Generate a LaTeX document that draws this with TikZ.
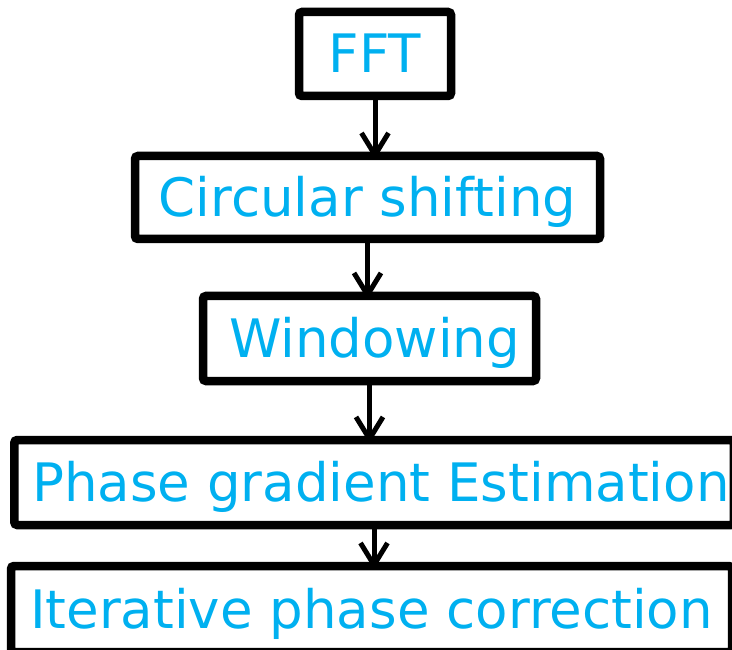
\documentclass[tikz,border=0pt]{standalone}
\usepackage{fontspec}
\setmainfont{DejaVu Sans}
\usetikzlibrary{arrows.meta}
\definecolor{txtblue}{HTML}{00B0F0}
\begin{document}
\begin{tikzpicture}[x=1pt,y=-1pt,
  stepbox/.style={draw=black, line width=8.5pt, rounded corners=3pt, inner sep=0pt,
    text=txtblue, font=\fontsize{53}{60}\selectfont, text height=38pt, text depth=0pt},
  arr/.style={draw=black, line width=5pt, shorten >=-8pt,
    -{Straight Barb[length=22pt,width=27pt]}}]
\useasboundingbox (0,0) rectangle (732,650);
\node[stepbox, minimum width=152pt, minimum height=84pt] (fft) at (375,54) {FFT};
\node[stepbox, minimum width=465pt, minimum height=83pt] (circ) at (367.5,197.5) {Circular shifting};
\node[stepbox, minimum width=333pt, minimum height=85pt] (win) at (369.5,338.5) {\hspace*{10pt}Windowing};
\node[stepbox, minimum width=719.5pt, minimum height=85pt] (phase) at (374,482.5) {\hspace*{14pt}Phase gradient Estimation};
\node[stepbox, minimum width=721pt, minimum height=86pt] (iter) at (371.5,609) {Iterative phase correction};
\draw[arr] (fft.south) -- (circ.north -| fft.south);
\draw[arr] (circ.south) -- (win.north -| circ.south);
\draw[arr] (win.south) -- (phase.north -| win.south);
\draw[arr] (phase.south) -- (iter.north -| phase.south);
\end{tikzpicture}
\end{document}
